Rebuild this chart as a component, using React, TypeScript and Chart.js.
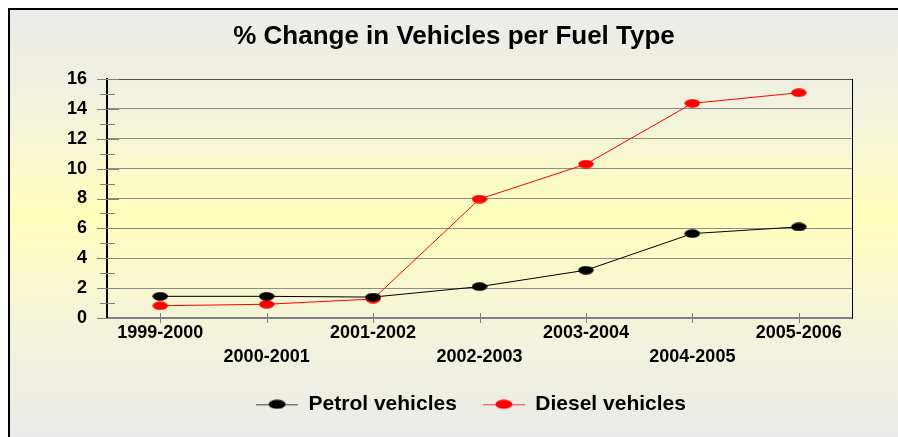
import React, { useEffect, useRef } from 'react';
import { Chart, registerables } from 'chart.js';

Chart.register(...registerables);

const chartTitle = '% Change in Vehicles per Fuel Type';
const categories = ['1999-2000', '2000-2001', '2001-2002', '2002-2003', '2003-2004', '2004-2005', '2005-2006'];
const seriesNames = ['Petrol vehicles', 'Diesel vehicles'];
const petrolValues = [1.45, 1.45, 1.4, 2.1, 3.2, 5.65, 6.1];
const dieselValues = [0.82, 0.92, 1.27, 7.96, 10.3, 14.37, 15.08];
const yMin = 0;
const yMax = 16;
const yMajorStep = 2;
const yMinorStep = 1;

const FONT = "'Liberation Sans', Arial, sans-serif";

function makeEllipse(color: string, w: number, h: number) {
  const c = document.createElement('canvas');
  c.width = w;
  c.height = h;
  const ctx = c.getContext('2d')!;
  ctx.fillStyle = color;
  ctx.beginPath();
  ctx.ellipse(w / 2, h / 2, w / 2 - 0.3, h / 2 - 0.3, 0, 0, Math.PI * 2);
  ctx.fill();
  return c;
}

function makeLegendIcon(lineColor: string, color: string, w: number, h: number, ew: number, eh: number) {
  const c = document.createElement('canvas');
  c.width = w;
  c.height = h;
  const ctx = c.getContext('2d')!;
  ctx.strokeStyle = lineColor;
  ctx.lineWidth = 1;
  ctx.beginPath();
  ctx.moveTo(0, Math.floor(h / 2) + 0.5);
  ctx.lineTo(w, Math.floor(h / 2) + 0.5);
  ctx.stroke();
  ctx.fillStyle = color;
  ctx.beginPath();
  ctx.ellipse(w / 2, h / 2, ew / 2, eh / 2, 0, 0, Math.PI * 2);
  ctx.fill();
  return c;
}

const tickMarks = {
  id: 'tickMarks',
  beforeDatasetsDraw(chart: any) {
    const { ctx, chartArea } = chart;
    const ys = chart.scales.y;
    const xs = chart.scales.x;
    ctx.save();
    ctx.strokeStyle = '#808080';
    ctx.lineWidth = 1;
    for (let v = yMin; v <= yMax; v += yMinorStep) {
      const y = Math.round(ys.getPixelForValue(v)) + 0.5;
      const major = v % yMajorStep === 0;
      ctx.beginPath();
      ctx.moveTo(chartArea.left - (major ? 10 : 7), y);
      ctx.lineTo(chartArea.left + (major ? 12 : 8), y);
      ctx.stroke();
    }
    categories.forEach((_, i) => {
      const x = Math.round(xs.getPixelForValue(i)) + 0.5;
      ctx.beginPath();
      ctx.moveTo(x, chartArea.bottom - 5);
      ctx.lineTo(x, chartArea.bottom + 5);
      ctx.stroke();
    });
    ctx.restore();
  },
};

const legendShift = {
  id: 'legendShift',
  afterLayout(chart: any) {
    const lg = chart.legend;
    if (lg) {
      lg.left += 17;
      lg.right += 17;
    }
  },
};

export default function App() {
  const ref = useRef<HTMLCanvasElement>(null);

  useEffect(() => {
    if (!ref.current) return;
    const petrolPoint = makeEllipse('#000000', 16, 9);
    const dieselPoint = makeEllipse('#ff0000', 16, 9);
    const legendIcons = [
      makeLegendIcon('#404040', '#000000', 42, 10, 17, 9),
      makeLegendIcon('#ff3030', '#ff0000', 42, 10, 17, 9),
    ];
    const chart = new Chart(ref.current, {
      type: 'line',
      data: {
        labels: categories,
        datasets: [
          {
            label: seriesNames[0],
            data: petrolValues,
            borderColor: '#000000',
            backgroundColor: '#000000',
            borderWidth: 1,
            pointStyle: petrolPoint as any,
            pointRadius: 6,
            tension: 0,
          },
          {
            label: seriesNames[1],
            data: dieselValues,
            borderColor: '#ff0000',
            backgroundColor: '#ff0000',
            borderWidth: 1,
            pointStyle: dieselPoint as any,
            pointRadius: 6,
            tension: 0,
          },
        ],
      },
      options: {
        animation: false,
        responsive: false,
        maintainAspectRatio: false,
        layout: { padding: { left: 0, right: 0, top: 0, bottom: 12.2 } },
        plugins: {
          title: {
            display: true,
            text: chartTitle,
            color: '#000000',
            font: { family: FONT, size: 26, weight: 'bold', lineHeight: 1.2 },
            padding: { top: 11.4, bottom: 26.4 },
          },
          legend: {
            display: true,
            position: 'bottom',
            labels: {
              usePointStyle: true,
              pointStyleWidth: 42,
              padding: 26,
              color: '#000000',
              font: { family: FONT, size: 21, weight: 'bold' },
              generateLabels: (c: any) =>
                (Chart.defaults.plugins.legend.labels.generateLabels as any)(c).map((l: any, i: number) => ({
                  ...l,
                  pointStyle: legendIcons[i],
                })),
            },
          },
          tooltip: { enabled: false },
        },
        scales: {
          x: {
            type: 'category',
            offset: true,
            grid: { display: false, drawTicks: false, offset: false },
            border: { display: true, color: '#808080', width: 2 },
            ticks: {
              autoSkip: false,
              maxRotation: 0,
              minRotation: 0,
              padding: 3.5,
              color: '#000000',
              font: { family: FONT, size: 18, weight: 'bold', lineHeight: 24 / 18 },
              callback: (_v: any, i: number) => (i % 2 === 1 ? ['', categories[i]] : categories[i]),
            },
            afterFit: (s: any) => {
              s.height = 49.8;
            },
          },
          y: {
            position: 'left',
            min: yMin,
            max: yMax,
            grid: {
              drawTicks: false,
              color: (ctx: any) => {
                const v = ctx.tick ? ctx.tick.value : 0;
                if (v % yMajorStep !== 0) return 'rgba(0,0,0,0)';
                if (v === yMax) return '#505050';
                return '#8c8c8c';
              },
              lineWidth: 1,
            },
            border: { display: true, color: '#000000', width: 2 },
            ticks: {
              stepSize: yMinorStep,
              autoSkip: false,
              padding: 20,
              color: '#000000',
              font: { family: FONT, size: 18, weight: 'bold' },
              callback: (v: any) => (Number(v) % yMajorStep === 0 ? String(v) : ''),
            },
            afterFit: (s: any) => {
              s.width = 97;
            },
          },
          y2: {
            position: 'right',
            display: true,
            grid: { display: false, drawTicks: false },
            border: { display: true, color: '#000000', width: 1 },
            ticks: { display: false },
            afterFit: (s: any) => {
              s.width = 46;
            },
          },
        },
      },
      plugins: [tickMarks, legendShift],
    });
    return () => chart.destroy();
  }, []);

  return (
    <div
      style={{
        position: 'fixed',
        left: 8,
        top: 8,
        width: 888,
        height: 427,
        borderLeft: '2px solid #000',
        borderTop: '2px solid #000',
        background: 'linear-gradient(to bottom, #ebebeb 0%, #f3f3dc 25%, #ffffbc 48%, #f3f3dc 75%, #ebebeb 100%)',
      }}
    >
      <canvas ref={ref} width={888} height={427} style={{ display: 'block', width: 888, height: 427 }} />
    </div>
  );
}
